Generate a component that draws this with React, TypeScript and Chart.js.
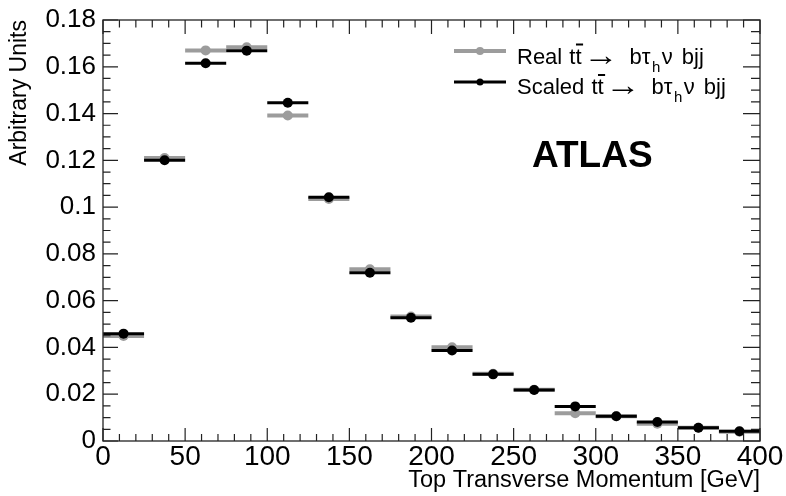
import React, { useEffect, useRef } from 'react';
import { Chart, registerables } from 'chart.js';

Chart.register(...registerables);

// ---- data ----
const binCenters = [12.5, 37.5, 62.5, 87.5, 112.5, 137.5, 162.5, 187.5, 212.5, 237.5, 262.5, 287.5, 312.5, 337.5, 362.5, 387.5];
const binHalfWidth = 12.5;
const realValues = [0.0449, 0.1210, 0.1670, 0.1683, 0.1392, 0.1035, 0.0734, 0.0532, 0.0401, 0.0287, 0.0219, 0.0119, 0.0106, 0.0074, 0.0057, 0.0040];
const scaledValues = [0.0459, 0.1200, 0.1615, 0.1669, 0.1446, 0.1042, 0.0719, 0.0527, 0.0387, 0.0285, 0.0218, 0.0148, 0.0106, 0.0081, 0.0057, 0.0042];
const xTickValues = [0, 50, 100, 150, 200, 250, 300, 350, 400];
const yTickValues = [0, 0.02, 0.04, 0.06, 0.08, 0.1, 0.12, 0.14, 0.16, 0.18];
const seriesNames = ['Real', 'Scaled'];
const xTitle = 'Top Transverse Momentum [GeV]';
const yTitle = 'Arbitrary Units';
const experimentLabel = 'ATLAS';

const FONT = '"Liberation Sans", Arial, Helvetica, sans-serif';
const GRAY = '#9c9c9c';
const BLACK = '#000000';

const bgPlugin = {
  id: 'bg',
  beforeDraw(chart: any) {
    const ctx = chart.ctx;
    ctx.save();
    ctx.fillStyle = '#ffffff';
    ctx.fillRect(0, 0, chart.width, chart.height);
    ctx.restore();
  },
};

const errorBarPlugin = {
  id: 'xErrorBars',
  beforeDatasetDraw(chart: any, args: any) {
    const ds = chart.data.datasets[args.index];
    const meta = args.meta;
    const xs = chart.scales.x;
    const ctx = chart.ctx;
    ctx.save();
    ctx.strokeStyle = ds.barColor;
    ctx.lineWidth = ds.barWidth;
    ctx.lineCap = 'butt';
    meta.data.forEach((pt: any, i: number) => {
      const c = binCenters[i];
      const x0 = xs.getPixelForValue(c - binHalfWidth);
      const x1 = xs.getPixelForValue(c + binHalfWidth);
      ctx.beginPath();
      ctx.moveTo(x0, pt.y);
      ctx.lineTo(x1, pt.y);
      ctx.stroke();
    });
    ctx.restore();
  },
};

const framePlugin = {
  id: 'frame',
  afterDatasetsDraw(chart: any) {
    const { ctx, chartArea: a, scales } = chart;
    const xs = scales.x;
    const ys = scales.y;
    ctx.save();
    ctx.strokeStyle = '#333333';
    ctx.lineWidth = 1.4;
    ctx.strokeRect(a.left, a.top, a.right - a.left, a.bottom - a.top);
    ctx.strokeStyle = '#222222';
    ctx.lineWidth = 1.2;
    ctx.beginPath();
    for (let i = 0; i <= 40; i++) {
      const v = i * 10;
      const px = xs.getPixelForValue(v);
      const major = i % 5 === 0;
      ctx.moveTo(px, a.bottom);
      ctx.lineTo(px, a.bottom - (major ? 13 : 7));
      ctx.moveTo(px, a.top);
      ctx.lineTo(px, a.top + (major ? 14 : 7.5));
    }
    for (let i = 0; i <= 36; i++) {
      const v = i * 0.005;
      const py = ys.getPixelForValue(v);
      const major = i % 4 === 0;
      ctx.moveTo(a.left, py);
      ctx.lineTo(a.left + (major ? 15 : 7.5), py);
      ctx.moveTo(a.right, py);
      ctx.lineTo(a.right - (major ? 17 : 9), py);
    }
    ctx.stroke();
    ctx.restore();
  },
};

function drawLegendRow(ctx: any, name: string, baseline: number, lineY: number, color: string, lw: number, r: number) {
  ctx.save();
  ctx.strokeStyle = color;
  ctx.lineWidth = lw;
  ctx.beginPath();
  ctx.moveTo(454, lineY);
  ctx.lineTo(506, lineY);
  ctx.stroke();
  ctx.fillStyle = color;
  ctx.beginPath();
  ctx.arc(480, lineY, r, 0, Math.PI * 2);
  ctx.fill();
  ctx.restore();

  ctx.save();
  ctx.fillStyle = '#000';
  ctx.textBaseline = 'alphabetic';
  ctx.textAlign = 'left';
  const big = `22px ${FONT}`;
  const small = `15px ${FONT}`;
  ctx.font = big;
  let x = 517;
  ctx.fillText(name, x, baseline);
  x += ctx.measureText(name + ' ').width + 1;
  ctx.fillText('tt', x, baseline);
  const wt = ctx.measureText('t').width;
  const wtt = ctx.measureText('tt').width;
  ctx.fillRect(x + wt + 0.5, baseline - 20, wt + 1, 2);
  x += wtt + 2;
  // arrow
  ctx.font = `30px ${FONT}`;
  const wa = ctx.measureText('\u2192').width;
  ctx.save();
  ctx.translate(x, baseline + 1);
  ctx.scale(35 / wa, 1);
  ctx.fillText('\u2192', 0, 0);
  ctx.restore();
  x += 35 + 11;
  ctx.font = big;
  ctx.fillText('b', x, baseline);
  x += ctx.measureText('b').width;
  ctx.fillText('\u03C4', x, baseline);
  x += ctx.measureText('\u03C4').width + 1.5;
  ctx.font = small;
  ctx.fillText('h', x, baseline + 8);
  x += ctx.measureText('h').width + 1.5;
  ctx.font = big;
  ctx.fillText('\u03BD', x, baseline);
  x += ctx.measureText('\u03BD').width + 9;
  ctx.fillText('bjj', x, baseline);
  ctx.restore();
}

const legendPlugin = {
  id: 'customLegend',
  afterDraw(chart: any) {
    const ctx = chart.ctx;
    drawLegendRow(ctx, seriesNames[0], 63.5, 51, GRAY, 4, 4);
    drawLegendRow(ctx, seriesNames[1], 94, 82, BLACK, 3, 3.5);
    ctx.save();
    ctx.fillStyle = '#000';
    ctx.font = `bold 37px ${FONT}`;
    ctx.textAlign = 'left';
    ctx.textBaseline = 'alphabetic';
    ctx.fillText(experimentLabel, 532, 167);
    ctx.restore();
  },
};

export default function App() {
  const ref = useRef<HTMLCanvasElement | null>(null);
  useEffect(() => {
    document.body.style.margin = '0';
    const canvas = ref.current;
    if (!canvas) return;
    const chart = new Chart(canvas, {
      type: 'scatter',
      data: {
        datasets: [
          {
            label: seriesNames[0],
            data: binCenters.map((x, i) => ({ x, y: realValues[i] })),
            backgroundColor: GRAY,
            borderColor: GRAY,
            pointRadius: 5,
            pointBorderWidth: 0,
            showLine: false,
            order: 2,
            barColor: GRAY,
            barWidth: 4,
          } as any,
          {
            label: seriesNames[1],
            data: binCenters.map((x, i) => ({ x, y: scaledValues[i] })),
            backgroundColor: BLACK,
            borderColor: BLACK,
            pointRadius: 5,
            pointBorderWidth: 0,
            showLine: false,
            order: 1,
            barColor: BLACK,
            barWidth: 3,
          } as any,
        ],
      },
      options: {
        animation: false,
        responsive: false,
        devicePixelRatio: 1,
        layout: { padding: { top: 15, right: 26, left: 0, bottom: 0 } },
        plugins: {
          legend: { display: false },
          tooltip: { enabled: false },
        },
        scales: {
          x: {
            type: 'linear',
            min: 0,
            max: 400,
            grid: { display: false, drawTicks: false },
            border: { display: false },
            afterBuildTicks: (s: any) => {
              s.ticks = xTickValues.map((v) => ({ value: v }));
            },
            afterFit: (s: any) => {
              s.height = 55;
            },
            ticks: {
              autoSkip: false,
              maxRotation: 0,
              padding: 2,
              color: '#000',
              font: { family: FONT, size: 28, lineHeight: 1 },
              callback: (v: any) => String(v),
            },
            title: {
              display: true,
              text: xTitle,
              align: 'end',
              color: '#000',
              font: { family: FONT, size: 23.5, lineHeight: 1.2 },
              padding: { top: 0, bottom: 1 },
            },
          },
          y: {
            type: 'linear',
            min: 0,
            max: 0.18,
            grid: { display: false, drawTicks: false },
            border: { display: false },
            afterBuildTicks: (s: any) => {
              s.ticks = yTickValues.map((v) => ({ value: v }));
            },
            afterFit: (s: any) => {
              s.width = 103;
            },
            ticks: {
              autoSkip: false,
              padding: 7,
              color: '#000',
              font: { family: FONT, size: 26, lineHeight: 1 },
              callback: (v: any) => String(+Number(v).toFixed(3)),
            },
            title: {
              display: true,
              text: yTitle,
              align: 'end',
              color: '#000',
              font: { family: FONT, size: 23, lineHeight: 1.2 },
              padding: { top: 6, bottom: 0 },
            },
          },
        },
      } as any,
      plugins: [bgPlugin, errorBarPlugin, framePlugin, legendPlugin],
    });
    return () => chart.destroy();
  }, []);
  return (
    <div style={{ width: 786, height: 496 }}>
      <canvas ref={ref} width={786} height={496} style={{ display: 'block' }} />
    </div>
  );
}
